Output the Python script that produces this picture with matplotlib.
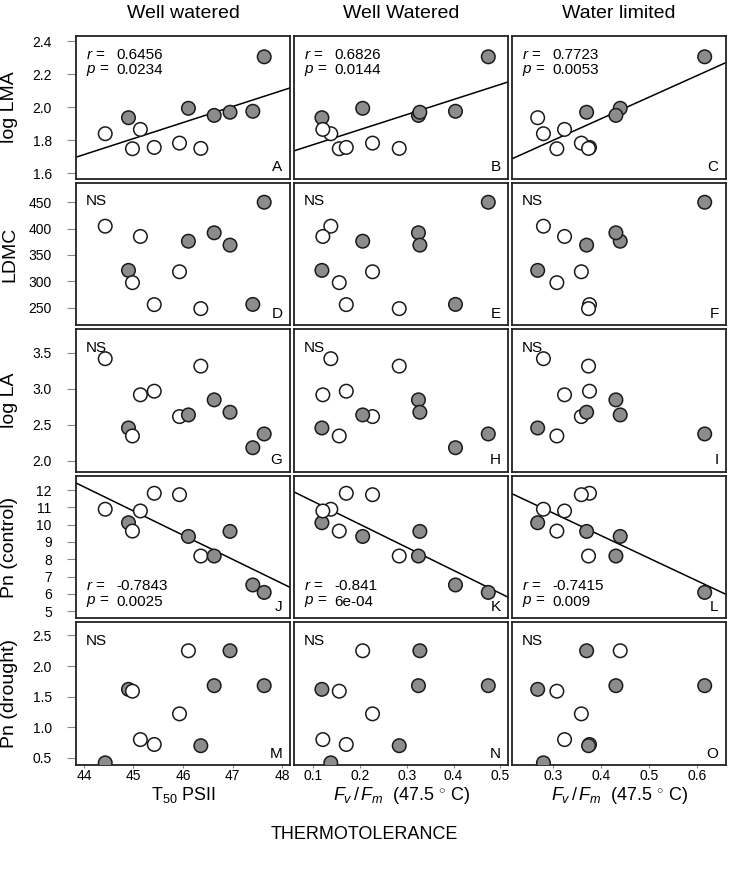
import numpy as np
import matplotlib
matplotlib.use('Agg')
import matplotlib.pyplot as plt

plt.rcParams['font.family'] = 'Liberation Sans'
plt.rcParams['mathtext.fontset'] = 'custom'
plt.rcParams['mathtext.rm'] = 'Liberation Sans'
plt.rcParams['mathtext.it'] = 'Liberation Sans:italic'

nan = np.nan

# one value per species (12 species), gray = True
filled = [False, True, False, False, False, False, True, False, True, True, True, True]
filled_drought = [True, True, False, False, False, False, False, True, True, True, True, True]
# panel C shows the second species as an open circle
filled_lma_wl = [False, False, False, False, False, False, True, False, True, True, True, True]

t50 = [44.43, 44.90, 44.98, 45.14, 45.42, 45.93, 46.11, 46.36, 46.63, 46.95, 47.41, 47.64]
fvfm_ww = [0.138, 0.119, 0.156, 0.121, 0.171, 0.227, 0.206, 0.284, 0.325, 0.328, 0.404, 0.474]
fvfm_wl = [0.280, 0.268, 0.308, 0.324, 0.376, 0.359, 0.440, 0.374, 0.431, 0.370, nan, 0.616]

log_lma = [1.840, 1.937, 1.749, 1.866, 1.757, 1.783, 1.994, 1.751, 1.951, 1.970, 1.976, 2.306]
ldmc = [404.5, 320.6, 297.3, 385.0, 255.6, 318.0, 376.0, 248.0, 392.0, 368.6, 256.0, 450.0]
log_la = [3.416, 2.455, 2.344, 2.915, 2.965, 2.613, 2.636, 3.313, 2.845, 2.673, 2.181, 2.372]
pn_control = [10.89, 10.11, 9.63, 10.79, 11.81, 11.73, 9.32, 8.19, 8.19, 9.61, 6.52, 6.09]
pn_drought = [0.42, 1.62, 1.59, 0.80, 0.72, 1.22, 2.25, 0.70, 1.68, 2.25, nan, 1.68]

col_titles = ['Well watered', 'Well Watered', 'Water limited']
row_labels = ['log LMA', 'LDMC', 'log LA', 'Pn (control)', 'Pn (drought)']
x_labels = [r'T$_{50}$ PSII',
            r'$F_v\,/\,F_m$  (47.5$\,^\circ\,$C)',
            r'$F_v\,/\,F_m$  (47.5$\,^\circ\,$C)']

x_ticks = [[44, 45, 46, 47, 48],
           [0.1, 0.2, 0.3, 0.4, 0.5],
           [0.3, 0.4, 0.5, 0.6]]
x_ticklabels = [['44', '45', '46', '47', '48'],
                ['0.1', '0.2', '0.3', '0.4', '0.5'],
                ['0.3', '0.4', '0.5', '0.6']]
y_ticks = [[1.6, 1.8, 2.0, 2.2, 2.4],
           [250, 300, 350, 400, 450],
           [2.0, 2.5, 3.0, 3.5],
           [5, 6, 7, 8, 9, 10, 11, 12],
           [0.5, 1.0, 1.5, 2.0, 2.5]]
y_ticklabels = [['1.6', '1.8', '2.0', '2.2', '2.4'],
                ['250', '300', '350', '400', '450'],
                ['2.0', '2.5', '3.0', '3.5'],
                ['5', '6', '7', '8', '9', '10', '11', '12'],
                ['0.5', '1.0', '1.5', '2.0', '2.5']]

xlims = [(43.84, 48.16), (0.0595, 0.516), (0.2146, 0.6604)]
ylims = [(1.568, 2.432), (216.5, 487.3), (1.847, 3.825), (4.59, 12.82), (0.385, 2.713)]

# significant panels: (row, col) -> (r, p, position of the text)
stats = {(0, 0): ('0.6456', '0.0234', 'top'),
         (0, 1): ('0.6826', '0.0144', 'top'),
         (0, 2): ('0.7723', '0.0053', 'top'),
         (3, 0): ('-0.7843', '0.0025', 'bottom'),
         (3, 1): ('-0.841', '6e-04', 'bottom'),
         (3, 2): ('-0.7415', '0.009', 'bottom')}
letters = 'ABCDEFGHIJKLMNO'

xs = [t50, fvfm_ww, fvfm_wl]
ys = [log_lma, ldmc, log_la, pn_control, pn_drought]

fig = plt.figure(figsize=(7.29, 8.71), dpi=100)
axes = fig.subplots(5, 3, gridspec_kw=dict(left=76/729, right=726/729, top=1-36/871,
                                           bottom=1-765/871, wspace=0.019, hspace=0.028))

for i in range(5):
    for j in range(3):
        ax = axes[i, j]
        x = np.array(xs[j], dtype=float)
        y = np.array(ys[i], dtype=float)
        if i == 4:
            fl = filled_drought
        elif (i, j) == (0, 2):
            fl = filled_lma_wl
        else:
            fl = filled
        cols = ['#8c8c8c' if f else 'white' for f in fl]
        ax.scatter(x, y, s=95, c=cols, edgecolors='#1a1a1a', linewidths=1.1, zorder=3)
        ax.set_xlim(xlims[j])
        ax.set_ylim(ylims[i])
        for sp in ax.spines.values():
            sp.set_linewidth(1.3)
            sp.set_color('#222222')

        if (i, j) in stats:
            ok = ~np.isnan(x) & ~np.isnan(y)
            m, b = np.polyfit(x[ok], y[ok], 1)
            ax.axline((0, b), slope=m, color='black', lw=1.1, zorder=2)
            r, p, pos = stats[(i, j)]
            y1, y2 = (0.865, 0.76) if pos == 'top' else (0.225, 0.118)
            ax.text(0.045, y1, r'$r$ =', transform=ax.transAxes, fontsize=11, va='center')
            ax.text(0.19, y1, r, transform=ax.transAxes, fontsize=11, va='center')
            ax.text(0.045, y2, r'$p$ =', transform=ax.transAxes, fontsize=11, va='center')
            ax.text(0.19, y2, p, transform=ax.transAxes, fontsize=11, va='center')
        else:
            ax.text(0.045, 0.87, 'NS', transform=ax.transAxes, fontsize=11, va='center')

        ax.text(0.965, 0.08, letters[i * 3 + j], transform=ax.transAxes, fontsize=11,
                ha='right', va='center')

        ax.set_xticks(x_ticks[j])
        ax.set_yticks(y_ticks[i])
        if i == 4:
            ax.set_xticklabels(x_ticklabels[j])
            ax.tick_params(axis='x', length=2, color='#888888', pad=1, labelsize=10)
        else:
            ax.tick_params(axis='x', length=0, labelbottom=False)
        if j == 0:
            ax.set_yticklabels(y_ticklabels[i])
            ax.tick_params(axis='y', length=6.5, color='#888888', pad=11, labelsize=10)
        else:
            ax.tick_params(axis='y', length=0, labelleft=False)

for j in range(3):
    cx = (axes[0, j].get_position().x0 + axes[0, j].get_position().x1) / 2
    fig.text(cx, 1 - 13/871, col_titles[j], ha='center', va='center', fontsize=14)
    fig.text(cx, 1 - 795/871, x_labels[j], ha='center', va='center', fontsize=13)

for i in range(5):
    pos = axes[i, 0].get_position()
    fig.text(10/729, (pos.y0 + pos.y1) / 2, row_labels[i], rotation=90,
             ha='center', va='center', fontsize=14)

fig.text(0.5, 1 - 834/871, 'THERMOTOLERANCE', ha='center', va='center', fontsize=13)

fig.savefig('out.png', dpi=100)
